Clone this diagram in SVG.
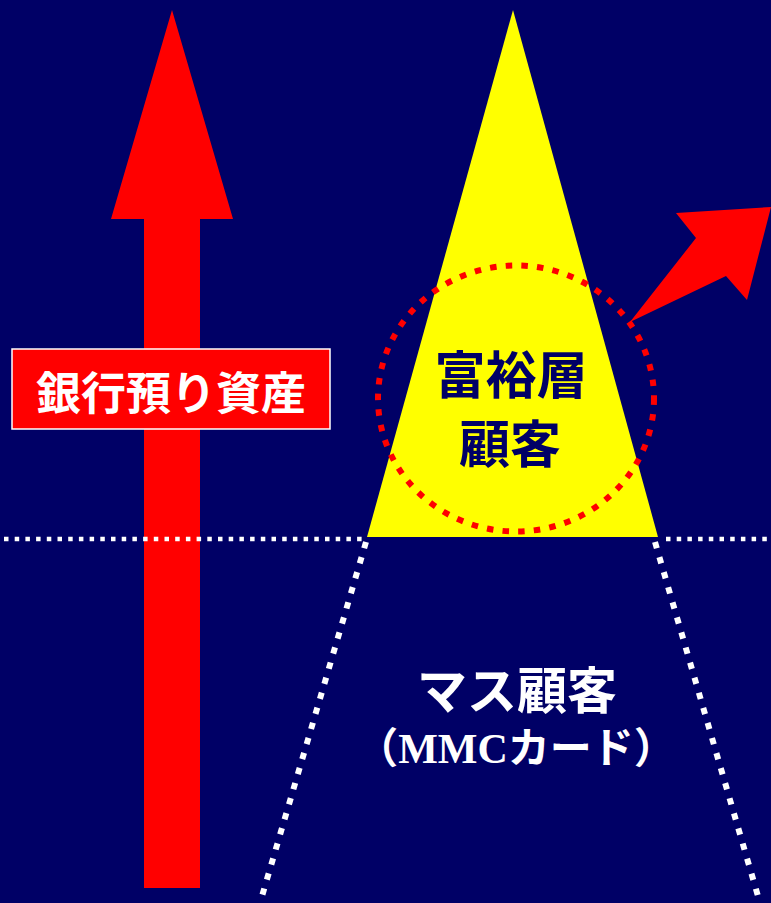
<svg xmlns="http://www.w3.org/2000/svg" width="771" height="903" viewBox="0 0 771 903">
<style>
.jp{font-family:"Noto Sans CJK JP","Noto Sans CJK SC",sans-serif;font-weight:bold;text-anchor:middle}
.mix{font-family:"Liberation Serif","Noto Sans CJK JP",serif;font-weight:bold;text-anchor:middle}
.hdot{fill:none;stroke:#fff;stroke-width:4.5;stroke-dasharray:4.5 6.2}
.sdot{fill:none;stroke:#fff;stroke-width:6;stroke-dasharray:6.5 9.2}
</style>
<rect x="0" y="0" width="771" height="903" fill="#000066"/>
<g id="assets-arrow">
<polygon points="172,10 233,219 200,219 200,888 144,888 144,219 111,219" fill="#ff0000"/>
</g>
<g id="pyramid">
<polygon points="513,10 658,537 367,537" fill="#ffff00"/>
</g>
<g id="connectors">
<line class="hdot" x1="4" y1="539" x2="364" y2="539"/>
<line class="hdot" x1="666" y1="539" x2="771" y2="539"/>
<line class="sdot" x1="366" y1="542" x2="260" y2="903"/>
<line class="sdot" x1="655" y1="542" x2="760" y2="903"/>
</g>
<g id="wealthy-circle">
<ellipse cx="516" cy="398.5" rx="138" ry="133" fill="none" stroke="#ff0000" stroke-width="6" stroke-dasharray="6.5 9.2"/>
</g>
<g id="growth-arrow">
<polygon points="630,322 696,238 676,213 771,207 747,300 726,276" fill="#ff0000"/>
</g>
<g id="assets-label">
<rect x="12" y="349" width="318" height="80" fill="#ff0000" stroke="#ffffff" stroke-width="1.5"/>
<text class="jp" x="171" y="410" font-size="45" fill="#ffffff">銀行預り資産</text>
</g>
<g id="wealthy-label">
<text class="jp" x="511" y="394" font-size="51" fill="#000066">富裕層</text>
<text class="jp" x="510" y="463" font-size="51" fill="#000066">顧客</text>
</g>
<g id="mass-label">
<text class="jp" x="517" y="709" font-size="50" fill="#ffffff">マス顧客</text>
<text class="mix" x="516" y="763" font-size="42" fill="#ffffff">（MMCカード）</text>
</g>
</svg>
